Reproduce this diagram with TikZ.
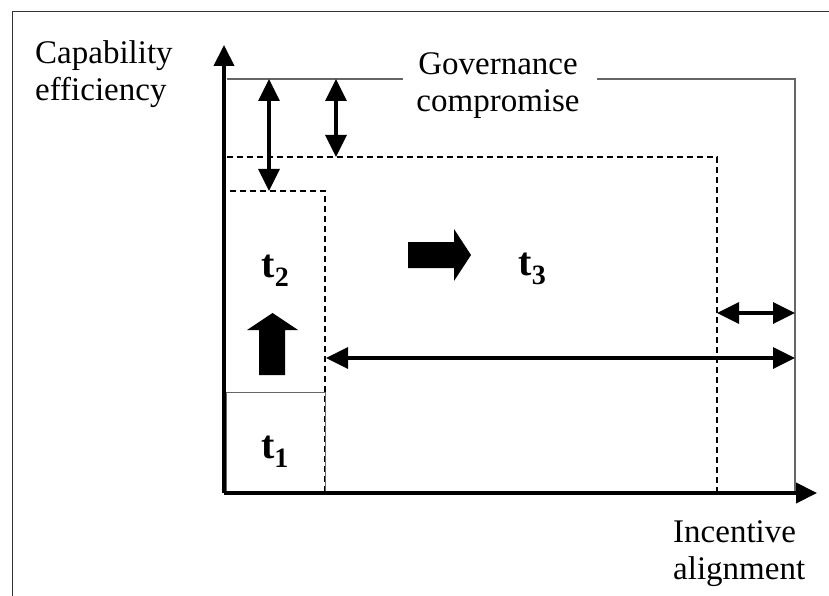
\documentclass[tikz,border=0pt]{standalone}
\usepackage{fontspec}
\setmainfont{Liberation Serif}
\usetikzlibrary{arrows.meta}
\tikzset{
  axis/.style={line width=4pt, -{Triangle[length=21pt,width=20pt]}},
  gap/.style={line width=3.5pt, {Triangle[length=22pt,width=21pt]}-{Triangle[length=22pt,width=21pt]}},
  bound/.style={line width=1.4pt, draw=black!60},
  frontier/.style={line width=1.4pt, dash pattern=on 6pt off 4pt},
  lbl/.style={font=\fontsize{33}{37}\selectfont, inner sep=0pt},
  stage/.style={font=\fontsize{40}{42}\selectfont\bfseries, inner sep=0pt, anchor=base}
}
\newcommand{\stagelbl}[4]{\node[stage] (#1) at ( #2 , #3 ) {t\textsubscript{#4}};}
\newcommand{\blockarrow}[1]{\fill[black] #1 -- cycle;}

\begin{document}
\begin{tikzpicture}[x=1pt, y=-1pt]
        \useasboundingbox (0,0) rectangle (829,596);
        % frame
        \draw[line width=1pt, black!80] (12,596) -- (12,12) -- (829,12);
        % corners
        \coordinate (O) at (224,493);
        \coordinate (ytip) at (224,45);
        \coordinate (xtip) at (817,493);
        \coordinate (gl) at (227,79);
        \coordinate (gm) at (403,79);
        \coordinate (gn) at (597,79);
        \coordinate (gr) at (795,79);
        \coordinate (gb) at (795,493);
        \coordinate (dl) at (227,157);
        \coordinate (dr) at (717,157);
        \coordinate (db) at (717,493);
        \coordinate (sl) at (230,191);
        \coordinate (sr) at (325,191);
        \coordinate (sb) at (325,493);
        % governance frontier
        \draw[bound] (gl) -- (gm);
        \draw[bound] (gn) -- (gr) -- (gb);
        % t3 frontier
        \draw[frontier] (dl) -- (dr) -- (db);
        % t2 frontier
        \draw[frontier] (sl) -- (sr) -- (sb);
        % t1 box
        \draw[bound, line width=1pt] (226,392) rectangle (325,493);
        % axes
        \draw[axis] (O) -- (ytip);
        \draw[axis] (O) -- (xtip);
        % gaps
        \coordinate (va) at (269,79);
        \coordinate (vb) at (269,191);
        \coordinate (wa) at (336,79);
        \coordinate (wb) at (336,157);
        \coordinate (ha) at (717,313);
        \coordinate (hb) at (795,313);
        \coordinate (ka) at (326,358);
        \coordinate (kb) at (795,358);
        \draw[gap] (va) -- (vb);
        \draw[gap] (wa) -- (wb);
        \draw[gap] (ha) -- (hb);
        \draw[gap] (ka) -- (kb);
        % block arrows
        \blockarrow{(259,375) -- (259,330) -- (247,330) -- (272.5,313) -- (298,330) -- (285,330) -- (285,375)}
        \blockarrow{(408,242) -- (454,242) -- (454,229) -- (471,255) -- (454,281) -- (454,268) -- (408,268)}
        % stages
        \stagelbl{t1}{275}{458}{1}
        \stagelbl{t2}{275.5}{277}{2}
        \stagelbl{t3}{532.5}{275}{3}
        % axis labels
        \node[lbl, align=left, anchor=north west] (yl) at (35,40) {Capability\\efficiency};
        \node[lbl, align=left, anchor=north west] (xl) at (673,520) {Incentive\\alignment};
        \node[lbl, align=center, anchor=north] (gov) at (498,52) {Governance\\compromise};
\end{tikzpicture}
\end{document}
